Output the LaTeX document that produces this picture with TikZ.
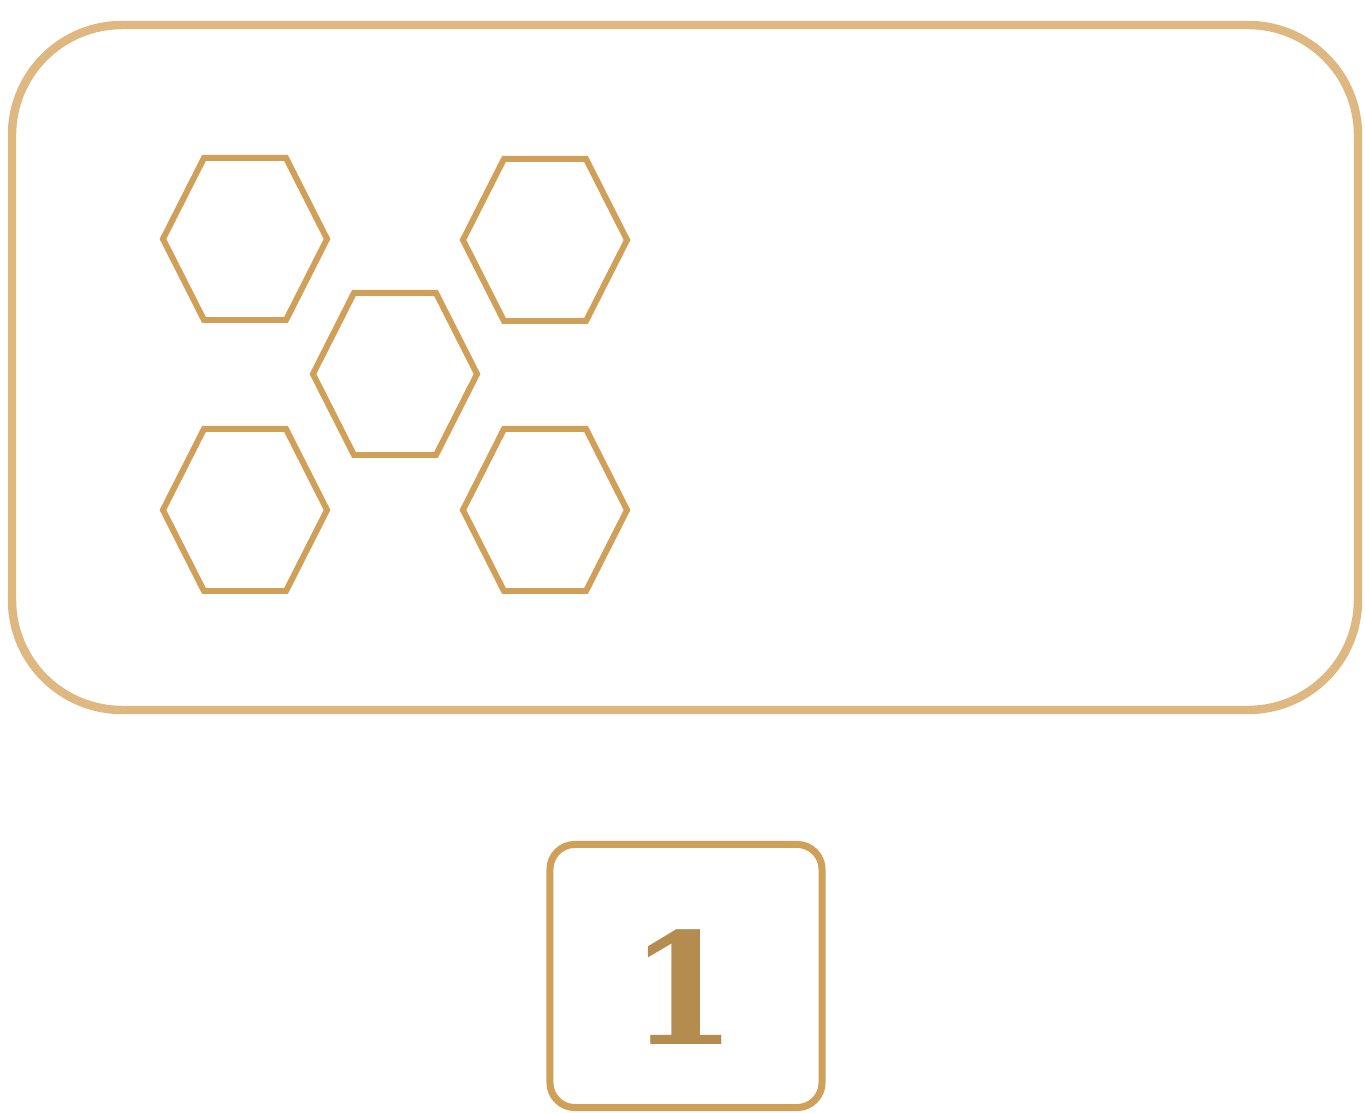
\documentclass[tikz,border=0pt]{standalone}
\usepackage{fontspec}
\usepackage{tikz}
\usetikzlibrary{shapes.geometric,positioning}

\newfontfamily\digitfont{DejaVu Serif}
\definecolor{tan}{RGB}{222,184,128}
\definecolor{gold}{RGB}{208,160,88}
\definecolor{digit}{RGB}{180,140,80}

\begin{document}
\begin{tikzpicture}[
  x=0.01cm, y=-0.01cm,
  frame/.style={draw=tan,line width=2.4pt,rounded corners=1.1cm},
  hexa/.style={draw=gold,line width=1.7pt,regular polygon,regular polygon sides=6,
    minimum size=1.64cm,inner sep=0pt,yscale=1.14},
  numbox/.style={draw=gold,line width=2pt,rounded corners=2.5mm,minimum width=2.72cm,
    minimum height=2.63cm},
  numtext/.style={font=\digitfont\fontsize{44}{46}\selectfont\bfseries,text=digit,inner sep=0pt}
]
\useasboundingbox (0,0) rectangle (1365,1113);
\draw[frame] (12,25) rectangle (1358,710);

\node[hexa] (hexTL) at (245,239) {};
\node[hexa] (hexTR) at (545,240) {};
\node[hexa] (hexM) at (395,374) {};
\node[hexa] (hexBL) at (245,510) {};
\node[hexa] (hexBR) at (545,510) {};

\node[numbox] (box) at (686,976) {};
\node[numtext] (one) at (683,987) {1};
\end{tikzpicture}
\end{document}
